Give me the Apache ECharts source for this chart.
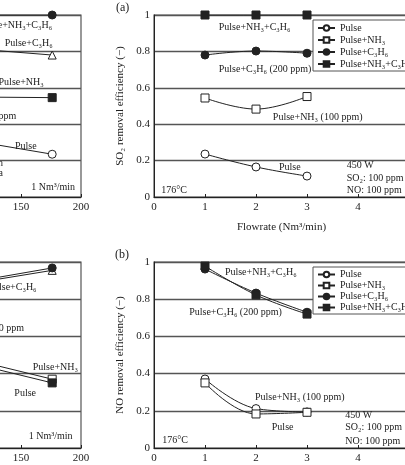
<!DOCTYPE html>
<html><head><meta charset="utf-8">
<script src="https://cdn.jsdelivr.net/npm/echarts@6/dist/echarts.min.js"></script>
<style>html,body{margin:0;padding:0;background:#fff}#c{width:405px;height:465px}</style>
</head><body><div id="c"></div>
<script>
// ---- data ----
const flowrates = [1, 2, 3];
const seriesNames = ['Pulse', 'Pulse+NH₃', 'Pulse+C₃H₆', 'Pulse+NH₃+C₃H₆'];
// (a) SO2 removal efficiency vs flowrate
const soPulse = [0.236, 0.165, 0.115];
const soNH3 = [0.544, 0.483, 0.552];
const soC3H6 = [0.78, 0.802, 0.79];
const soNH3C3H6 = [1.0, 1.0, 1.0];
// (b) NO removal efficiency vs flowrate
const noPulse = [0.371, 0.212, 0.194];
const noNH3 = [0.35, 0.183, 0.192];
const noC3H6 = [0.962, 0.833, 0.73];
const noNH3C3H6 = [0.978, 0.823, 0.72];
// left (cropped) panels: temperature dependence
const temps = [100, 176];
const tSoA = [1.0, 1.0];
const tSoB = [0.82, 0.78];
const tSoC = [0.55, 0.546];
const tSoD = [0.32, 0.235];
const tNoA = [0.883, 0.968];
const tNoB = [0.875, 0.955];
const tNoC = [0.49, 0.37];
const tNoD = [0.47, 0.35];
const yTicks = [0, 0.2, 0.4, 0.6, 0.8, 1];

const FONT = 'Liberation Serif';
const INK = '#222';
const GRIDC = '#555';

function pts(xs, ys) { return xs.map((x, i) => [x, ys[i]]); }

const markerStyles = {
  'Pulse': { symbol: 'circle', fill: '#fff' },
  'Pulse+NH₃': { symbol: 'rect', fill: '#fff' },
  'Pulse+C₃H₆': { symbol: 'circle', fill: INK },
  'Pulse+NH₃+C₃H₆': { symbol: 'rect', fill: INK }
};

function lineSeries(name, xi, yi, data, sym, fill, smooth) {
  return {
    name: name, type: 'line', xAxisIndex: xi, yAxisIndex: yi,
    data: data, symbol: sym, symbolSize: 8, smooth: smooth || false,
    lineStyle: { color: INK, width: 1 },
    itemStyle: { color: fill, borderColor: INK, borderWidth: 1 },
    emphasis: { disabled: true }, z: 5
  };
}

const grids = [
  { left: -39, top: 15, width: 120, height: 182 },   // top-left (cropped)
  { left: 154, top: 15, width: 255, height: 182 },   // (a)
  { left: -39, top: 262, width: 120, height: 186 },  // bottom-left (cropped)
  { left: 154, top: 262, width: 255, height: 186 }   // (b)
].map(g => Object.assign({ show: true, borderColor: GRIDC, borderWidth: 1.2, backgroundColor: '#fff',
  containLabel: false, outerBoundsMode: 'none' }, g));

function xAx(gi, isFlow, name) {
  return {
    gridIndex: gi, type: 'value',
    min: isFlow ? 0 : 100, max: isFlow ? 5 : 200, interval: isFlow ? 1 : 50,
    name: name || '', nameLocation: 'middle', nameGap: 25,
    nameTextStyle: { fontFamily: FONT, fontSize: 11, color: INK },
    axisLine: { show: true, lineStyle: { color: INK, width: 1 } },
    axisTick: { show: true, inside: true, length: 3, lineStyle: { color: INK } },
    axisLabel: { fontFamily: FONT, fontSize: 11, color: INK, margin: 5, showMaxLabel: true },
    splitLine: { show: false }
  };
}
function yAx(gi, name) {
  return {
    gridIndex: gi, type: 'value', min: 0, max: 1, interval: 0.2,
    name: name || '', nameLocation: 'middle', nameGap: 25,
    nameTextStyle: { fontFamily: FONT, fontSize: 11, color: INK },
    axisLine: { show: true, lineStyle: { color: INK, width: 1 } },
    axisTick: { show: false },
    axisLabel: { show: !!name, fontFamily: FONT, fontSize: 11, color: INK, margin: 4,
      formatter: v => (v === 0 || v === 1) ? String(v) : v.toFixed(1) },
    splitLine: { show: true, lineStyle: { color: GRIDC, width: 1.4 } }
  };
}

const series = [];
// (a)
[soPulse, soNH3, soC3H6, soNH3C3H6].forEach((arr, i) => {
  const m = markerStyles[seriesNames[i]];
  series.push(lineSeries(seriesNames[i], 1, 1, pts(flowrates, arr), m.symbol, m.fill, 0.4));
});
// (b)
[noPulse, noNH3, noC3H6, noNH3C3H6].forEach((arr, i) => {
  const m = markerStyles[seriesNames[i]];
  series.push(lineSeries(seriesNames[i], 3, 3, pts(flowrates, arr), m.symbol, m.fill, 0.4));
});
// left cropped panels
series.push(lineSeries('T1', 0, 0, pts(temps, tSoA), 'circle', INK));
series.push(lineSeries('T2', 0, 0, pts(temps, tSoB), 'triangle', '#fff'));
series.push(lineSeries('T3', 0, 0, pts(temps, tSoC), 'rect', INK));
series.push(lineSeries('T4', 0, 0, pts(temps, tSoD), 'circle', '#fff'));
series.push(lineSeries('T5', 2, 2, pts(temps, tNoB), 'triangle', '#fff'));
series.push(lineSeries('T6', 2, 2, pts(temps, tNoA), 'circle', INK));
series.push(lineSeries('T7', 2, 2, pts(temps, tNoC), 'rect', '#fff'));
series.push(lineSeries('T8', 2, 2, pts(temps, tNoD), 'rect', INK));

function legendAt(top, gap) {
  return {
    data: seriesNames, orient: 'vertical', left: 313, top: top,
    itemWidth: 17, itemHeight: 7, itemGap: 0,
    padding: [2, 6, 1, 4], borderColor: GRIDC, borderWidth: 1, backgroundColor: '#fff',
    textStyle: { fontFamily: FONT, fontSize: 10, color: INK, lineHeight: gap },
    selectedMode: false, z: 10
  };
}

// annotations: [gridIndex (x axis / y axis index), x, y, text, align]
const annotations = [
  [1, 1.27, 0.93, 'Pulse+NH₃+C₃H₆', 'left'],
  [1, 1.27, 0.70, 'Pulse+C₃H₆ (200 ppm)', 'left'],
  [1, 2.33, 0.44, 'Pulse+NH₃ (100 ppm)', 'left'],
  [1, 2.45, 0.165, 'Pulse', 'left'],
  [1, 3.78, 0.176, '450 W', 'left'],
  [1, 3.78, 0.104, 'SO₂: 100 ppm', 'left'],
  [1, 3.78, 0.036, 'NO: 100 ppm', 'left'],
  [1, 0.14, 0.038, '176°C', 'left'],
  [3, 1.39, 0.946, 'Pulse+NH₃+C₃H₆', 'left'],
  [3, 0.69, 0.73, 'Pulse+C₃H₆ (200 ppm)', 'left'],
  [3, 1.98, 0.27, 'Pulse+NH₃ (100 ppm)', 'left'],
  [3, 2.31, 0.113, 'Pulse', 'left'],
  [3, 3.75, 0.177, '450 W', 'left'],
  [3, 3.75, 0.113, 'SO₂: 100 ppm', 'left'],
  [3, 3.75, 0.038, 'NO: 100 ppm', 'left'],
  [3, 0.16, 0.043, '176°C', 'left'],
  [0, 176, 0.945, 'Pulse+NH₃+C₃H₆', 'right'],
  [0, 176.5, 0.846, 'Pulse+C₃H₆', 'right'],
  [0, 169, 0.63, 'Pulse+NH₃', 'right'],
  [0, 146, 0.445, 'NH₃: 100 ppm', 'right'],
  [0, 163, 0.28, 'Pulse', 'right'],
  [0, 135, 0.187, 'Pulse on', 'right'],
  [0, 135, 0.132, 'Plasma', 'right'],
  [0, 195, 0.055, '1 Nm³/min', 'right'],
  [2, 163, 0.866, 'Pulse+C₃H₆', 'right'],
  [2, 152.5, 0.645, 'C₃H₆: 200 ppm', 'right'],
  [2, 197.5, 0.435, 'Pulse+NH₃', 'right'],
  [2, 162.5, 0.296, 'Pulse', 'right'],
  [2, 193, 0.06, '1 Nm³/min', 'right']
];

const chart = echarts.init(document.getElementById('c'), null, { renderer: 'canvas' });
chart.setOption({
  backgroundColor: '#fff',
  animation: false,
  grid: grids,
  xAxis: [xAx(0, false), xAx(1, true, 'Flowrate (Nm³/min)'), xAx(2, false), xAx(3, true)],
  yAxis: [yAx(0), yAx(1, 'SO₂ removal efficiency (−)'), yAx(2), yAx(3, 'NO removal efficiency (−)')],
  legend: [legendAt(20, 12), legendAt(267, 11)],
  series: series
});

const gfx = annotations.map(a => {
  const p = chart.convertToPixel({ xAxisIndex: a[0], yAxisIndex: a[0] }, [a[1], a[2]]);
  return {
    type: 'text', x: p[0], y: p[1], z: 20, silent: true,
    style: { text: a[3], fontFamily: FONT, fontSize: 10, fill: INK, align: a[4], verticalAlign: 'middle' }
  };
});
gfx.push({ type: 'text', x: 116, y: 8, z: 20, style: { text: '(a)', fontFamily: FONT, fontSize: 12, fill: INK, verticalAlign: 'middle' } });
gfx.push({ type: 'text', x: 115, y: 255, z: 20, style: { text: '(b)', fontFamily: FONT, fontSize: 12, fill: INK, verticalAlign: 'middle' } });
chart.setOption({ graphic: gfx });
</script>
</body></html>
